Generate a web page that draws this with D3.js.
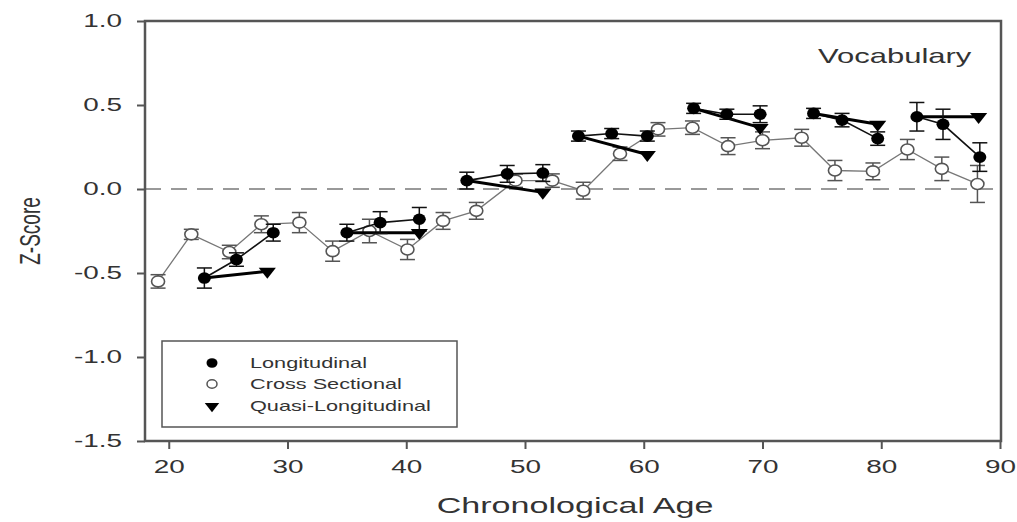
<!DOCTYPE html>
<html>
<head>
<meta charset="utf-8">
<script src="https://cdn.jsdelivr.net/npm/d3@7"></script>
<style>
  body { margin: 0; background: #fff; }
  svg { display: block; }
  text { font-family: "Liberation Sans", Arial, Helvetica, sans-serif; fill: #333; }
</style>
</head>
<body>
<div id="chart"></div>
<script>
// values
const xTicks = [20, 30, 40, 50, 60, 70, 80, 90];
const yTicks = [-1.5, -1.0, -0.5, 0.0, 0.5, 1.0];

// cross sectional (open circles)
const crossAge = [19.1, 21.9, 25.1, 27.8, 31.0, 33.8, 36.9, 40.1, 43.1, 45.9, 49.2, 52.3,
                  54.9, 58.0, 61.2, 64.1, 67.1, 70.0, 73.3, 76.1, 79.3, 82.2, 85.1, 88.1];
const crossZ   = [-0.55, -0.27, -0.375, -0.21, -0.20, -0.37, -0.25, -0.36, -0.19, -0.13, 0.05, 0.05,
                  -0.01, 0.21, 0.355, 0.365, 0.255, 0.29, 0.305, 0.11, 0.105, 0.235, 0.12, 0.03];
const crossErr = [0.04, 0.03, 0.04, 0.05, 0.06, 0.06, 0.07, 0.06, 0.05, 0.05, 0.04, 0.04,
                  0.05, 0.04, 0.04, 0.04, 0.05, 0.05, 0.05, 0.06, 0.05, 0.06, 0.07, 0.11];

// longitudinal (filled circles), three waves per cohort
const longGroup = [1,1,1, 2,2,2, 3,3,3, 4,4,4, 5,5,5, 6,6,6, 7,7,7];
const longAge   = [23.0, 25.7, 28.8, 35.0, 37.8, 41.1, 45.1, 48.5, 51.5, 54.5, 57.3, 60.3,
                   64.2, 67.0, 69.8, 74.3, 76.7, 79.7, 83.0, 85.2, 88.3];
const longZ     = [-0.53, -0.42, -0.26, -0.26, -0.20, -0.18, 0.05, 0.09, 0.095, 0.315, 0.33, 0.315,
                   0.48, 0.445, 0.445, 0.45, 0.41, 0.30, 0.43, 0.385, 0.19];
const longErr   = [0.06, 0.04, 0.05, 0.05, 0.065, 0.07, 0.05, 0.05, 0.05, 0.03, 0.03, 0.03,
                   0.03, 0.03, 0.05, 0.03, 0.04, 0.04, 0.085, 0.09, 0.085];

// quasi-longitudinal (triangles), one per cohort
const quasiGroup = [1, 2, 3, 4, 5, 6, 7];
const quasiAge   = [28.3, 41.1, 51.5, 60.3, 69.8, 79.7, 88.2];
const quasiZ     = [-0.49, -0.26, -0.02, 0.205, 0.365, 0.385, 0.43];

const legendLabels = ["Longitudinal", "Cross Sectional", "Quasi-Longitudinal"];

const W = 1017, H = 522;
const SX = 1.55; // the source picture is stretched horizontally

const x = d3.scaleLinear().domain([18, 90]).range([145, 1000]);
const y = d3.scaleLinear().domain([-1.5, 1.0]).range([441, 21]);

const svg = d3.select("#chart").append("svg")
  .attr("width", W).attr("height", H);

const cross = crossAge.map((a, i) => ({age: a, z: crossZ[i], err: crossErr[i]}));
const long = longAge.map((a, i) => ({age: a, z: longZ[i], err: longErr[i], g: longGroup[i]}));
const quasi = quasiAge.map((a, i) => ({age: a, z: quasiZ[i], g: quasiGroup[i]}));

// zero reference line
svg.append("line")
  .attr("x1", x(18)).attr("x2", x(90))
  .attr("y1", y(0)).attr("y2", y(0))
  .attr("stroke", "#999").attr("stroke-width", 2)
  .attr("stroke-dasharray", "16,10");

const line = d3.line().x(d => x(d.age)).y(d => y(d.z));

function errBars(sel, data, color) {
  const g = sel.append("g").attr("stroke", color).attr("stroke-width", 1.5);
  g.selectAll(".eb").data(data).enter().append("line")
    .attr("x1", d => x(d.age)).attr("x2", d => x(d.age))
    .attr("y1", d => y(d.z - d.err)).attr("y2", d => y(d.z + d.err));
  g.selectAll(".capt").data(data).enter().append("line")
    .attr("x1", d => x(d.age) - 7.5).attr("x2", d => x(d.age) + 7.5)
    .attr("y1", d => y(d.z + d.err)).attr("y2", d => y(d.z + d.err));
  g.selectAll(".capb").data(data).enter().append("line")
    .attr("x1", d => x(d.age) - 7.5).attr("x2", d => x(d.age) + 7.5)
    .attr("y1", d => y(d.z - d.err)).attr("y2", d => y(d.z - d.err));
}

// cross sectional series
svg.append("path").datum(cross)
  .attr("d", line).attr("fill", "none")
  .attr("stroke", "#777").attr("stroke-width", 1.3);
errBars(svg, cross, "#555");
svg.selectAll(".open").data(cross).enter().append("ellipse")
  .attr("cx", d => x(d.age)).attr("cy", d => y(d.z))
  .attr("rx", 6.5).attr("ry", 5.5)
  .attr("fill", "#fff").attr("stroke", "#555").attr("stroke-width", 1.6);

// longitudinal cohorts
const groups = d3.groups(long, d => d.g);
groups.forEach(([g, pts]) => {
  svg.append("path").datum(pts)
    .attr("d", line).attr("fill", "none")
    .attr("stroke", "#111").attr("stroke-width", 1.6);
  const q = quasi.filter(d => d.g === g);
  svg.append("path").datum([pts[0], q[0]])
    .attr("d", line).attr("fill", "none")
    .attr("stroke", "#000").attr("stroke-width", 3);
});
errBars(svg, long, "#111");
svg.selectAll(".filled").data(long).enter().append("ellipse")
  .attr("cx", d => x(d.age)).attr("cy", d => y(d.z))
  .attr("rx", 6.5).attr("ry", 5.8)
  .attr("fill", "#000");

const tri = d3.symbol().type(d3.symbolTriangle).size(70);
svg.selectAll(".tri").data(quasi).enter().append("path")
  .attr("d", tri)
  .attr("transform", d => `translate(${x(d.age)},${y(d.z)}) scale(1.35,1) rotate(180)`)
  .attr("fill", "#000");

// frame
svg.append("rect")
  .attr("x", 145).attr("y", 21).attr("width", 856).attr("height", 420)
  .attr("fill", "none").attr("stroke", "#555").attr("stroke-width", 2.5);

// axes
const xAxis = svg.append("g")
  .attr("transform", `translate(0,${y(-1.5)})`)
  .call(d3.axisBottom(x).tickValues(xTicks).tickSize(8).tickPadding(11));
xAxis.select(".domain").remove();
xAxis.selectAll("line").attr("stroke", "#555").attr("stroke-width", 2);
xAxis.selectAll("text")
  .attr("font-size", 18).attr("fill", "#333")
  .style("font-family", "Liberation Sans, Arial, sans-serif")
  .attr("transform", `scale(${SX},1)`);

const yAxis = svg.append("g")
  .attr("transform", `translate(${x(18)},0)`)
  .call(d3.axisLeft(y).tickValues(yTicks).tickSize(8).tickFormat(d => d.toFixed(1)));
yAxis.select(".domain").remove();
yAxis.selectAll("line").attr("stroke", "#555").attr("stroke-width", 2);
yAxis.selectAll("text")
  .attr("font-size", 18).attr("fill", "#333")
  .style("font-family", "Liberation Sans, Arial, sans-serif")
  .attr("x", -23 / SX)
  .attr("transform", `scale(${SX},1)`);

// titles
svg.append("text")
  .attr("transform", `translate(575,513) scale(${SX},1)`)
  .attr("text-anchor", "middle").attr("font-size", 22)
  .text("Chronological Age");

svg.append("text")
  .attr("transform", `translate(40,231) scale(${SX},1) rotate(-90)`)
  .attr("text-anchor", "middle").attr("font-size", 19)
  .text("Z-Score");

svg.append("text")
  .attr("transform", `translate(818,63) scale(${SX},1)`)
  .attr("font-size", 20)
  .text("Vocabulary");

// legend
const lg = svg.append("g");
lg.append("rect")
  .attr("x", 162).attr("y", 341).attr("width", 295).attr("height", 86)
  .attr("fill", "#fff").attr("stroke", "#555").attr("stroke-width", 1.5);
const rowY = [363, 384, 406];
lg.append("ellipse").attr("cx", 212).attr("cy", rowY[0]).attr("rx", 5.5).attr("ry", 4.8).attr("fill", "#000");
lg.append("ellipse").attr("cx", 212).attr("cy", rowY[1]).attr("rx", 5).attr("ry", 4.2)
  .attr("fill", "#fff").attr("stroke", "#555").attr("stroke-width", 1.5);
lg.append("path").attr("d", d3.symbol().type(d3.symbolTriangle).size(50))
  .attr("transform", `translate(212,${rowY[2]}) scale(1.35,1) rotate(180)`).attr("fill", "#000");
lg.selectAll(".lt").data(legendLabels).enter().append("text")
  .attr("transform", (d, i) => `translate(250,${rowY[i] + 5}) scale(${SX},1)`)
  .attr("font-size", 14)
  .text(d => d);
</script>
</body>
</html>
